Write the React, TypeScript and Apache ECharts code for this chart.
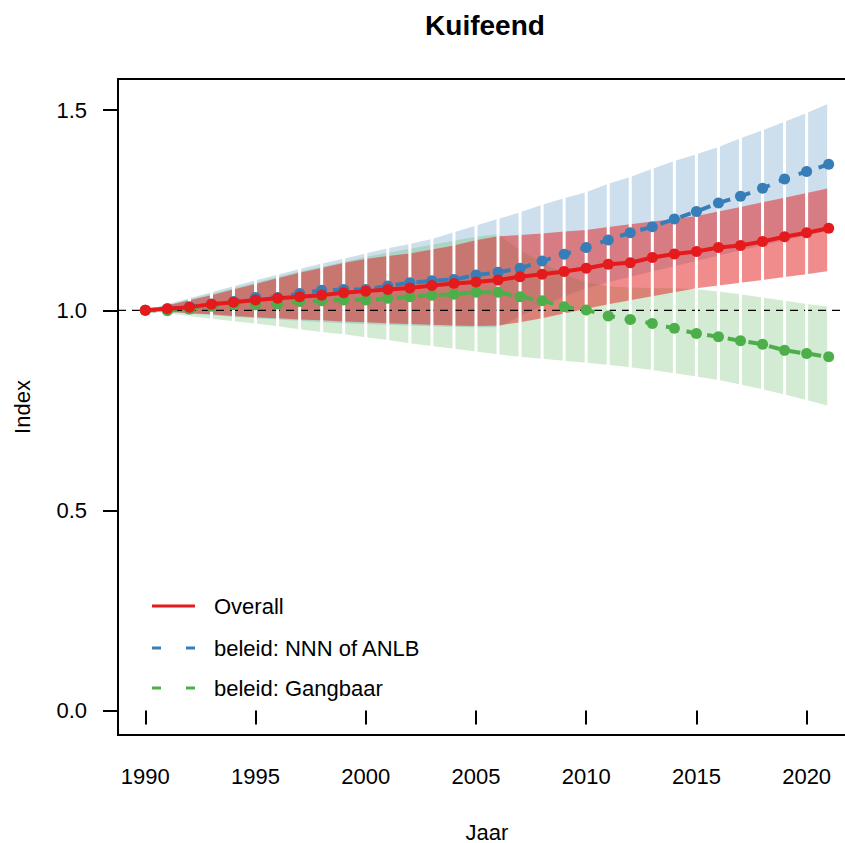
import React, { useEffect, useRef } from "react";
import * as echarts from "echarts";

// Index per year, 1990 = 1
const years = [
  1990, 1991, 1992, 1993, 1994, 1995, 1996, 1997, 1998, 1999, 2000, 2001, 2002, 2003, 2004, 2005,
  2006, 2007, 2008, 2009, 2010, 2011, 2012, 2013, 2014, 2015, 2016, 2017, 2018, 2019, 2020, 2021,
];

const overall = [
  1.0, 1.004, 1.008, 1.015, 1.02, 1.026, 1.03, 1.034, 1.038, 1.044, 1.048, 1.052, 1.056, 1.062, 1.067, 1.071,
  1.076, 1.084, 1.09, 1.097, 1.105, 1.115, 1.119, 1.132, 1.141, 1.147, 1.157, 1.162, 1.172, 1.184, 1.194, 1.205,
];
const overallLo = [
  1.0, 0.997, 0.993, 0.99, 0.986, 0.983, 0.98, 0.977, 0.975, 0.972, 0.97, 0.968, 0.966, 0.964, 0.962, 0.961,
  0.962, 0.97, 0.98, 0.992, 1.004, 1.015, 1.025, 1.035, 1.045, 1.055, 1.062, 1.069, 1.076, 1.083, 1.09, 1.098,
];
const overallHi = [
  1.0, 1.012, 1.025, 1.038, 1.052, 1.066, 1.08, 1.094, 1.106, 1.118, 1.128, 1.136, 1.142, 1.152, 1.162, 1.175,
  1.185, 1.188, 1.192, 1.197, 1.201, 1.208, 1.215, 1.222, 1.228, 1.236, 1.247, 1.258, 1.27, 1.281, 1.293, 1.305,
];

const nnn = [
  1.0, 1.004, 1.009, 1.016, 1.022, 1.032, 1.032, 1.042, 1.05, 1.052, 1.052, 1.061, 1.069, 1.074, 1.077, 1.088,
  1.095, 1.105, 1.123, 1.14, 1.157, 1.176, 1.194, 1.209, 1.228, 1.247, 1.268, 1.285, 1.305, 1.328, 1.347, 1.365,
];
const nnnLo = [
  1.0, 0.996, 0.992, 0.988, 0.984, 0.98, 0.977, 0.974, 0.971, 0.968, 0.966, 0.964, 0.962, 0.96, 0.959, 0.958,
  0.958, 0.985, 1.01, 1.035, 1.055, 1.07, 1.084, 1.097, 1.11, 1.123, 1.137, 1.15, 1.162, 1.175, 1.187, 1.199,
];
const nnnHi = [
  1.0, 1.015, 1.03, 1.045, 1.06, 1.075, 1.089, 1.103, 1.117, 1.129, 1.142, 1.155, 1.166, 1.178, 1.195, 1.212,
  1.228, 1.245, 1.264, 1.28, 1.295, 1.316, 1.333, 1.354, 1.373, 1.39, 1.408, 1.43, 1.45, 1.471, 1.493, 1.517,
];

const gangbaar = [
  1.0, 0.999, 1.003, 1.01, 1.014, 1.014, 1.016, 1.022, 1.024, 1.026, 1.026, 1.03, 1.034, 1.038, 1.04, 1.045,
  1.045, 1.034, 1.024, 1.009, 1.001, 0.986, 0.977, 0.967, 0.955, 0.942, 0.934, 0.924, 0.915, 0.9, 0.892, 0.884,
];
const gangbaarLo = [
  1.0, 0.993, 0.986, 0.979, 0.973, 0.967, 0.96, 0.953, 0.946, 0.94, 0.933, 0.926, 0.918, 0.911, 0.904, 0.897,
  0.89, 0.884, 0.879, 0.874, 0.869, 0.864, 0.858, 0.851, 0.843, 0.835, 0.826, 0.815, 0.803, 0.79, 0.776, 0.761,
];
const gangbaarHi = [
  1.0, 1.013, 1.027, 1.041, 1.055, 1.069, 1.083, 1.097, 1.109, 1.121, 1.133, 1.144, 1.154, 1.164, 1.174, 1.184,
  1.19, 1.15, 1.12, 1.09, 1.07, 1.06, 1.057, 1.056, 1.055, 1.053, 1.047, 1.04, 1.032, 1.024, 1.016, 1.009,
];

const xTicks = [1990, 1995, 2000, 2005, 2010, 2015, 2020];
const yTicks = [0, 0.5, 1, 1.5];

const legendNames = ["Overall", "beleid: NNN of ANLB", "beleid: Gangbaar"];

const RED = "#E41A1C";
const BLUE = "#377EB8";
const GREEN = "#4DAF4A";
const FONT = "'Liberation Sans', Arial, sans-serif";

// one shaded trapezoid per year interval, edges follow the lower/upper bound
function bandSeries(name: string, lo: number[], hi: number[], fill: string, z: number) {
  const data = years.slice(0, -1).map((y, i) => [y, lo[i], hi[i], years[i + 1], lo[i + 1], hi[i + 1]]);
  return {
    type: "custom",
    name,
    silent: true,
    z,
    encode: { x: [0, 3], y: [1, 2, 4, 5] },
    data,
    renderItem: (_p: any, api: any) => {
      const a = api.coord([api.value(0), api.value(1)]);
      const b = api.coord([api.value(0), api.value(2)]);
      const c = api.coord([api.value(3), api.value(5)]);
      const d = api.coord([api.value(3), api.value(4)]);
      return { type: "polygon", shape: { points: [a, b, c, d] }, style: { fill } };
    },
  };
}

// white separators at each year through all bands
function separatorSeries() {
  const data = years.map((y, i) => [
    y,
    Math.min(overallLo[i], nnnLo[i], gangbaarLo[i]),
    Math.max(overallHi[i], nnnHi[i], gangbaarHi[i]),
  ]);
  return {
    type: "custom",
    silent: true,
    z: 4,
    encode: { x: 0, y: [1, 2] },
    data,
    renderItem: (_p: any, api: any) => {
      const a = api.coord([api.value(0), api.value(1)]);
      const b = api.coord([api.value(0), api.value(2)]);
      return {
        type: "line",
        shape: { x1: a[0], y1: a[1] + 1, x2: b[0], y2: b[1] - 1 },
        style: { stroke: "#ffffff", lineWidth: 3 },
      };
    },
  };
}

function lineSeries(name: string, values: number[], color: string, dashed: boolean, z: number) {
  return {
    type: "line",
    name,
    z,
    data: years.map((y, i) => [y, values[i]]),
    symbol: "circle",
    symbolSize: 11,
    itemStyle: { color },
    lineStyle: { color, width: 4, type: dashed ? [11, 10] : "solid" },
  };
}

const legendRows = [
  { y: 606, color: RED, dash: null as number[] | null },
  { y: 648, color: BLUE, dash: [9, 25] },
  { y: 688, color: GREEN, dash: [9, 25] },
];

export default function App() {
  const ref = useRef<HTMLDivElement>(null);

  useEffect(() => {
    if (!ref.current) return;
    const chart = echarts.init(ref.current, null, { renderer: "svg" });
    const xMin = 1990 - 31 * 0.04;
    const xMax = 2021 + 31 * 0.04;

    chart.setOption({
      animation: false,
      backgroundColor: "#ffffff",
      textStyle: { fontFamily: FONT },
      graphic: [
        {
          type: "text",
          x: 485,
          y: 25,
          style: {
            text: "Kuifeend",
            fontFamily: FONT,
            fontSize: 28,
            fontWeight: "bold",
            fill: "#000",
            align: "center",
            verticalAlign: "middle",
          },
        },
        ...legendRows.flatMap((row, i) => [
          {
            type: "line",
            shape: { x1: 152, y1: row.y, x2: 195, y2: row.y },
            style: { stroke: row.color, lineWidth: 3, lineDash: row.dash || undefined },
          },
          {
            type: "text",
            x: 214,
            y: row.y,
            style: {
              text: legendNames[i],
              fontFamily: FONT,
              fontSize: 22,
              fill: "#000",
              verticalAlign: "middle",
            },
          },
        ]),
      ],
      grid: {
        left: 118,
        top: 79,
        width: 738,
        height: 656,
        outerBoundsMode: "none",
        containLabel: false,
        show: true,
        borderColor: "#000",
        borderWidth: 2,
        backgroundColor: "transparent",
      },
      xAxis: {
        type: "value",
        min: xMin,
        max: xMax,
        name: "Jaar",
        nameLocation: "middle",
        nameGap: 86,
        nameTextStyle: { fontFamily: FONT, fontSize: 22, color: "#000" },
        axisLine: { show: false },
        splitLine: { show: false },
        axisTick: {
          show: true,
          inside: false,
          length: 14,
          customValues: xTicks,
          lineStyle: { color: "#000", width: 2 },
        },
        axisLabel: {
          customValues: xTicks,
          margin: 30,
          fontFamily: FONT,
          fontSize: 22,
          color: "#000",
          formatter: (v: number) => String(v),
        },
      },
      yAxis: {
        type: "value",
        min: -0.061,
        max: 1.578,
        name: "Index",
        nameLocation: "middle",
        nameGap: 85,
        nameRotate: 90,
        nameTextStyle: { fontFamily: FONT, fontSize: 22, color: "#000" },
        axisLine: { show: false },
        splitLine: { show: false },
        axisTick: {
          show: true,
          inside: false,
          length: 15,
          customValues: yTicks,
          lineStyle: { color: "#000", width: 2 },
        },
        axisLabel: {
          customValues: yTicks,
          margin: 31,
          fontFamily: FONT,
          fontSize: 22,
          color: "#000",
          formatter: (v: number) => v.toFixed(1),
        },
      },
      series: [
        bandSeries("band NNN", nnnLo, nnnHi, "rgba(55,126,184,0.25)", 1),
        bandSeries("band Gangbaar", gangbaarLo, gangbaarHi, "rgba(77,175,74,0.25)", 2),
        bandSeries("band Overall", overallLo, overallHi, "rgba(228,26,28,0.5)", 2),
        {
          type: "line",
          name: "ref",
          z: 3,
          silent: true,
          symbol: "none",
          data: [
            [xMin, 1],
            [xMax, 1],
          ],
          lineStyle: { color: "#000", width: 1.2, type: [8, 6] },
        },
        separatorSeries(),
        lineSeries(legendNames[1], nnn, BLUE, true, 5),
        lineSeries(legendNames[2], gangbaar, GREEN, true, 5),
        lineSeries(legendNames[0], overall, RED, false, 6),
      ],
    });

    return () => chart.dispose();
  }, []);

  return (
    <div
      ref={ref}
      style={{ position: "fixed", left: 0, top: 0, width: 845, height: 843, background: "#fff" }}
    />
  );
}
